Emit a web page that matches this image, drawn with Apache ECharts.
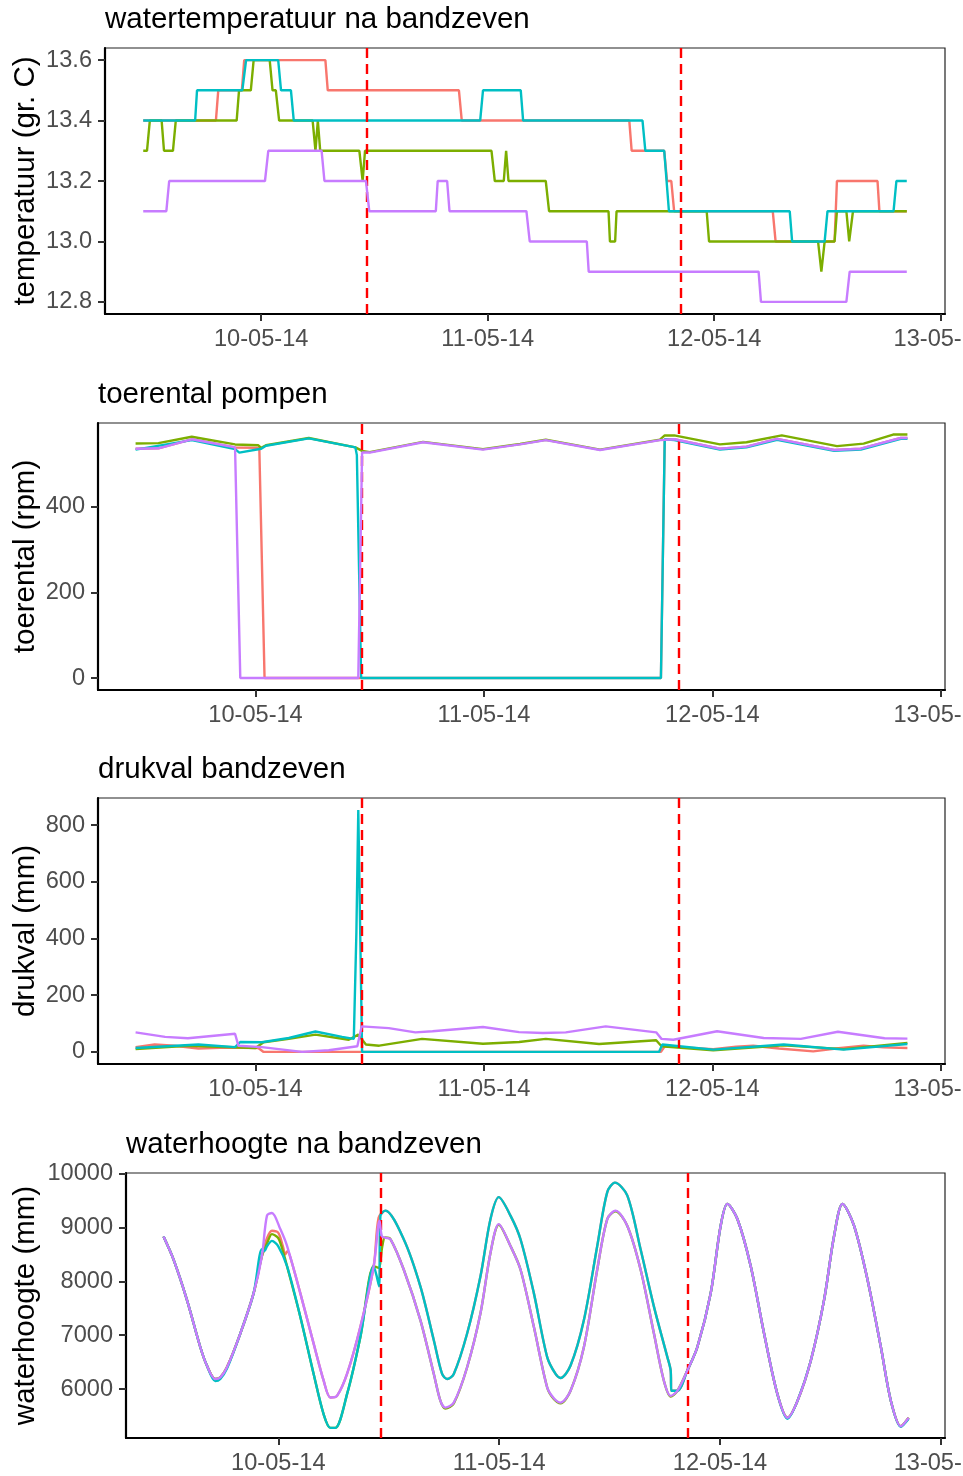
<!DOCTYPE html>
<html>
<head>
<meta charset="utf-8">
<script src="https://cdn.jsdelivr.net/npm/echarts@6/dist/echarts.min.js"></script>
<style>
html,body{margin:0;padding:0;background:#fff}
#main{width:963px;height:1476px}
</style>
</head>
<body>
<div id="main"></div>
<script>
// hours counted from 10-05-14 00:00
var xTicks = [0, 24, 48, 72];
var xTickLabels = ['10-05-14', '11-05-14', '12-05-14', '13-05-14'];
var eventHours = [11.15, 44.5];

var panelTitles = ['watertemperatuur na bandzeven', 'toerental pompen', 'drukval bandzeven', 'waterhoogte na bandzeven'];
var yTitles = ['temperatuur (gr. C)', 'toerental (rpm)', 'drukval (mm)', 'waterhoogte (mm)'];
var yTicks = [
    [12.8, 13.0, 13.2, 13.4, 13.6],
    [0, 200, 400],
    [0, 200, 400, 600, 800],
    [6000, 7000, 8000, 9000, 10000]
];

// watertemperatuur
var tempRed = [[-12.5,13.4],[-4.8,13.4],[-4.55,13.5],[-2.05,13.5],[-1.8,13.6],[6.8,13.6],[7.05,13.5],[20.95,13.5],[21.25,13.4],[39.0,13.4],[39.25,13.3],[42.7,13.3],[43.0,13.2],[43.45,13.2],[43.75,13.1],[54.2,13.1],[54.5,13.0],[60.75,13.0],[61.0,13.2],[65.3,13.2],[65.5,13.1],[68.4,13.1]];
var tempGreen = [[-12.5,13.3],[-12.1,13.3],[-11.8,13.4],[-10.55,13.4],[-10.3,13.3],[-9.35,13.3],[-9.05,13.4],[-2.6,13.4],[-2.35,13.5],[-1.1,13.5],[-0.8,13.6],[0.9,13.6],[1.2,13.5],[1.55,13.5],[1.9,13.4],[5.45,13.4],[5.75,13.3],[6.0,13.4],[6.25,13.3],[10.4,13.3],[10.75,13.2],[11.0,13.3],[24.4,13.3],[24.75,13.2],[25.7,13.2],[25.95,13.3],[26.2,13.2],[30.15,13.2],[30.5,13.1],[36.8,13.1],[36.95,13.0],[37.5,13.0],[37.65,13.1],[47.2,13.1],[47.45,13.0],[59.0,13.0],[59.35,12.9],[59.7,13.0],[60.75,13.0],[61.0,13.1],[62.0,13.1],[62.3,13.0],[62.7,13.1],[68.4,13.1]];
var tempCyan = [[-12.5,13.4],[-7.0,13.4],[-6.8,13.5],[-2.0,13.5],[-1.6,13.6],[1.8,13.6],[2.1,13.5],[3.15,13.5],[3.45,13.4],[23.2,13.4],[23.5,13.5],[27.5,13.5],[27.75,13.4],[40.4,13.4],[40.7,13.3],[42.7,13.3],[43.2,13.1],[56.0,13.1],[56.25,13.0],[59.7,13.0],[60.0,13.1],[67.0,13.1],[67.3,13.2],[68.4,13.2]];
var tempPurple = [[-12.5,13.1],[-10.05,13.1],[-9.75,13.2],[0.4,13.2],[0.75,13.3],[6.4,13.3],[6.7,13.2],[11.1,13.2],[11.45,13.1],[18.5,13.1],[18.7,13.2],[19.7,13.2],[19.95,13.1],[28.1,13.1],[28.45,13.0],[34.5,13.0],[34.7,12.9],[52.7,12.9],[52.95,12.8],[62.0,12.8],[62.35,12.9],[68.4,12.9]];

// toerental
var rpmRed = [[-12.6,535],[-10.2,536],[-6.7,557],[-2.15,538],[0.4,537],[0.95,0],[42.6,0],[43.0,557],[44.0,557],[48.8,535],[51.6,540],[54.8,558],[60.8,532],[63.6,535],[67.8,560],[68.5,560]];
var rpmGreen = [[-12.6,547],[-10.2,548],[-6.7,563],[-2.15,545],[0.3,543],[0.6,537],[1.1,543],[5.6,560],[10.5,538],[11.2,530],[12.0,527],[17.6,551],[23.9,534],[27.8,546],[30.5,556],[36.2,533],[42.5,556],[43.0,566],[44.0,566],[48.8,545],[51.6,550],[55.3,566],[61.1,541],[63.9,547],[67.0,568],[68.5,568]];
var rpmCyan = [[-12.6,533],[-6.7,555],[-2.15,534],[-1.7,526],[0.6,535],[1.1,542],[5.6,559],[10.5,538],[10.65,520],[11.1,0],[42.6,0],[43.0,557],[44.0,555],[48.8,533],[51.6,538],[54.8,556],[60.8,530],[63.6,533],[67.8,558],[68.5,558]];
var rpmPurple = [[-12.6,535],[-10.2,536],[-6.7,557],[-2.15,538],[-1.6,0],[10.8,0],[11.2,526],[12.0,526],[17.6,550],[23.9,533],[27.8,545],[30.5,555],[36.2,532],[42.5,555],[44.0,557],[48.8,535],[51.6,540],[54.8,558],[60.8,532],[63.6,535],[67.8,560],[68.5,560]];

// drukval
var dpRed = [[-12.6,17],[-10.6,26],[-8.5,22],[-6.0,12],[-3.0,15],[0.3,14],[0.85,0],[42.6,0],[43.0,20],[45.5,15],[48.1,10],[50.5,18],[52.3,22],[55.0,12],[58.6,2],[61.0,12],[63.9,22],[66.0,16],[68.5,14]];
var dpGreen = [[-12.6,10],[-7.1,22],[0.0,14],[0.85,34],[3.5,46],[6.3,61],[9.8,43],[10.8,61],[11.6,26],[13.0,22],[17.5,46],[23.9,29],[27.7,35],[30.5,46],[36.1,28],[42.1,41],[42.66,20],[48.1,6],[55.5,23],[61.8,10],[68.5,32]];
var dpCyan = [[-12.6,14],[-6.0,26],[-2.15,17],[-1.6,35],[0.66,34],[3.5,49],[6.3,72],[9.1,53],[10.33,46],[10.6,420],[10.8,853],[11.0,853],[11.2,0],[42.4,0],[42.75,26],[48.1,8],[55.5,26],[61.8,8],[68.5,28]];
var dpPurple = [[-12.6,69],[-9.5,53],[-7.1,48],[-2.15,64],[-1.8,22],[0.66,17],[4.9,0],[7.7,6],[10.7,20],[11.15,90],[14.0,84],[16.8,69],[18.6,73],[23.9,88],[27.7,70],[30.2,67],[32.6,69],[36.8,90],[42.1,69],[42.66,46],[43.9,43],[48.5,73],[53.4,49],[57.3,46],[61.2,71],[66.1,48],[68.5,47]];

// waterhoogte
var wlRed = [[-12.47,8831],[-11.39,8406],[-9.93,7656],[-8.48,6781],[-7.76,6437],[-6.85,6187],[-6.3,6219],[-5.58,6406],[-4.13,7031],[-2.68,7781],[-1.78,8469],[-1.23,8800],[-0.69,8938],[0.0,8900],[0.5,8650],[0.76,8500],[1.0,8560],[1.3,8450],[2.39,7781],[3.84,6844],[4.93,6156],[5.66,5844],[6.38,5875],[7.47,6281],[8.92,7156],[10.37,8281],[10.9,9180],[11.64,9312],[13.63,8781],[15.44,7906],[16.9,6906],[17.8,6281],[18.35,6187],[19.07,6281],[20.52,7031],[21.97,8094],[23.06,9156],[23.96,9562],[25.23,9219],[26.32,8781],[27.77,7781],[29.22,6594],[30.13,6281],[30.67,6206],[31.76,6437],[33.21,7281],[34.66,8656],[35.75,9656],[36.58,9831],[37.92,9594],[39.37,8594],[40.82,7531],[42.28,6594],[42.64,6344],[42.71,5969],[43.37,5969],[44.45,6344],[45.54,6781],[46.99,7781],[48.07,9031],[48.8,9437],[49.89,9156],[51.34,8281],[52.79,7031],[54.24,5906],[55.33,5469],[56.42,5781],[57.87,6531],[59.31,7656],[60.4,8844],[61.31,9437],[62.57,9031],[64.03,8031],[65.48,6781],[66.57,5781],[67.65,5312],[68.5,5469]];
var wlGreen = [[-12.47,8831],[-11.39,8406],[-9.93,7656],[-8.48,6781],[-7.76,6437],[-6.85,6187],[-6.3,6219],[-5.58,6406],[-4.13,7031],[-2.68,7781],[-1.78,8469],[-1.23,8700],[-0.69,8875],[0.0,8800],[0.6,8500],[0.95,8281],[2.39,7344],[3.84,6281],[4.93,5531],[5.66,5281],[6.2,5281],[7.47,5906],[8.92,6969],[10.37,8281],[10.9,8250],[11.3,8650],[11.6,8812],[12.2,8780],[13.63,8219],[15.44,7281],[16.9,6281],[17.62,5781],[18.16,5640],[19.07,5735],[20.52,6406],[21.97,7406],[23.06,8531],[23.96,9050],[25.23,8656],[26.32,8219],[27.77,7156],[29.22,6031],[29.94,5815],[30.67,5735],[31.76,5969],[33.21,6781],[34.66,8219],[35.75,9156],[36.65,9300],[37.92,9031],[39.37,8219],[40.82,7031],[41.9,6156],[42.64,5860],[43.37,5969],[44.45,6344],[45.54,6781],[46.99,7781],[48.07,9031],[48.8,9437],[49.89,9156],[51.34,8281],[52.79,7031],[54.24,5906],[55.33,5469],[56.42,5781],[57.87,6531],[59.31,7656],[60.4,8844],[61.31,9437],[62.57,9031],[64.03,8031],[65.48,6781],[66.57,5781],[67.65,5312],[68.5,5469]];
var wlCyan = [[-12.47,8831],[-11.39,8406],[-9.93,7656],[-8.48,6781],[-7.76,6437],[-6.85,6150],[-6.3,6190],[-5.58,6380],[-4.13,7031],[-2.68,7781],[-1.78,8594],[-1.5,8560],[-1.23,8650],[-0.69,8750],[0.0,8650],[0.95,8281],[2.39,7344],[3.84,6281],[4.93,5531],[5.66,5281],[6.2,5281],[7.47,5906],[8.92,6969],[10.37,8281],[10.65,8125],[10.95,7906],[11.1,9219],[11.64,9312],[13.63,8781],[15.44,7906],[16.9,6906],[17.8,6281],[18.35,6187],[19.07,6281],[20.52,7031],[21.97,8094],[23.06,9156],[23.96,9562],[25.23,9219],[26.32,8781],[27.77,7781],[29.22,6594],[30.13,6281],[30.67,6206],[31.76,6437],[33.21,7281],[34.66,8656],[35.75,9656],[36.58,9831],[37.92,9594],[39.37,8594],[40.82,7531],[42.28,6594],[42.64,6344],[42.71,5969],[43.37,5969],[44.45,6344],[45.54,6781],[46.99,7781],[48.07,9031],[48.8,9437],[49.89,9156],[51.34,8281],[52.79,7031],[54.24,5906],[55.33,5450],[56.42,5781],[57.87,6531],[59.31,7656],[60.4,8844],[61.31,9437],[62.57,9031],[64.03,8031],[65.48,6781],[66.57,5781],[67.65,5300],[68.5,5450]];
var wlPurple = [[-12.47,8831],[-11.39,8406],[-9.93,7656],[-8.48,6781],[-7.76,6437],[-6.85,6187],[-6.3,6219],[-5.58,6406],[-4.13,7031],[-2.68,7781],[-1.78,8469],[-1.23,9219],[-0.69,9269],[0.22,8969],[0.95,8656],[2.39,7781],[3.84,6844],[4.93,6156],[5.66,5844],[6.38,5875],[7.47,6281],[8.92,7156],[10.37,8281],[11.0,9125],[11.25,8840],[11.6,8812],[12.2,8780],[13.63,8219],[15.44,7281],[16.9,6281],[17.62,5781],[18.16,5656],[19.07,5750],[20.52,6406],[21.97,7406],[23.06,8531],[23.96,9062],[25.23,8656],[26.32,8219],[27.77,7156],[29.22,6031],[29.94,5831],[30.67,5750],[31.76,5969],[33.21,6781],[34.66,8219],[35.75,9156],[36.65,9312],[37.92,9031],[39.37,8219],[40.82,7031],[41.9,6156],[42.64,5875],[43.37,5969],[44.45,6344],[45.54,6781],[46.99,7781],[48.07,9031],[48.8,9437],[49.89,9156],[51.34,8281],[52.79,7031],[54.24,5906],[55.33,5469],[56.42,5781],[57.87,6531],[59.31,7656],[60.4,8844],[61.31,9437],[62.57,9031],[64.03,8031],[65.48,6781],[66.57,5781],[67.65,5312],[68.5,5469]];

var colors = ['#F8766D', '#7CAE00', '#00BFC4', '#C77CFF'];
var panelData = [
    [tempRed, tempGreen, tempCyan, tempPurple],
    [rpmRed, rpmGreen, rpmCyan, rpmPurple],
    [dpRed, dpGreen, dpCyan, dpPurple],
    [wlRed, wlGreen, wlCyan, wlPurple]
];
var panelSmooth = [false, false, false, 0.3];

var fontFam = 'Liberation Sans, Arial, sans-serif';
var grids = [
    {left: 105, top: 48, width: 840, height: 266},
    {left: 98, top: 423, width: 847, height: 267},
    {left: 98, top: 798, width: 847, height: 266},
    {left: 126, top: 1173, width: 819, height: 265}
];
var yRanges = [[12.76, 13.64], [-28, 595], [-42.6, 895.6], [5093, 10010]];
var nameGaps = [64, 57, 57, 85];

var myChart = echarts.init(document.getElementById('main'));

var option = {
    animation: false,
    backgroundColor: '#fff',
    title: [],
    grid: [],
    xAxis: [],
    yAxis: [],
    series: []
};

grids.forEach(function(g, i){
    option.grid.push({left: g.left, top: g.top, width: g.width, height: g.height,
        outerBoundsMode: 'none', containLabel: false,
        show: true, borderColor: '#222', borderWidth: 1.2, backgroundColor: '#fff'});
    option.title.push({
        text: panelTitles[i], left: g.left, top: g.top - 43, padding: 0,
        textStyle: {fontFamily: fontFam, fontSize: 29.5, fontWeight: 'normal', color: '#000'}
    });
    option.xAxis.push({
        type: 'value', gridIndex: i, min: -16.55, max: 72.45,
        axisLine: {show: true, onZero: false, lineStyle: {color: '#000', width: 2.2}},
        axisTick: {show: true, length: 7, customValues: xTicks, lineStyle: {color: '#333', width: 2}},
        axisLabel: {customValues: xTicks, margin: 13, fontFamily: fontFam, fontSize: 23.6, color: '#4D4D4D',
            hideOverlap: false,
            formatter: function(v){ return xTickLabels[xTicks.indexOf(v)] || ''; }},
        splitLine: {show: false}
    });
    option.yAxis.push({
        type: 'value', gridIndex: i, min: yRanges[i][0], max: yRanges[i][1],
        name: yTitles[i], nameLocation: 'middle', nameRotate: 90, nameGap: nameGaps[i],
        nameMoveOverlap: false,
        nameTextStyle: {fontFamily: fontFam, fontSize: 29.5, color: '#000'},
        axisLine: {show: true, onZero: false, lineStyle: {color: '#000', width: 2.2}},
        axisTick: {show: true, length: 7, customValues: yTicks[i], lineStyle: {color: '#333', width: 2}},
        axisLabel: {customValues: yTicks[i], margin: 13, fontFamily: fontFam, fontSize: 23.6, color: '#4D4D4D',
            formatter: function(v){ return i === 0 ? v.toFixed(1) : String(v); }},
        splitLine: {show: false}
    });
    panelData[i].forEach(function(d, k){
        option.series.push({
            type: 'line', xAxisIndex: i, yAxisIndex: i, data: d,
            showSymbol: false, symbol: 'none', silent: true, z: 2 + k,
            smooth: panelSmooth[i],
            lineStyle: {color: colors[k], width: 2.4},
            itemStyle: {color: colors[k]}
        });
    });
    option.series.push({
        type: 'line', xAxisIndex: i, yAxisIndex: i, data: [], z: 10, silent: true,
        markLine: {
            silent: true, symbol: ['none', 'none'], label: {show: false},
            lineStyle: {color: '#FF0000', type: [10, 6], width: 2.4},
            data: eventHours.map(function(h){ return {xAxis: h}; })
        }
    });
});

myChart.setOption(option);
</script>
</body>
</html>
